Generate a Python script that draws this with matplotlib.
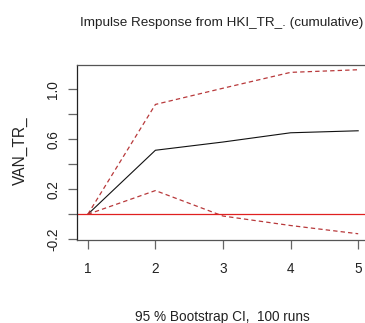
import matplotlib
matplotlib.use("Agg")
import matplotlib.pyplot as plt

plt.rcParams['font.family'] = ['Liberation Sans', 'DejaVu Sans']

# Cumulative impulse response of VAN_TR_ to a shock in HKI_TR_
horizon = [1, 2, 3, 4, 5]
irf = [0.0, 0.513, 0.579, 0.653, 0.669]
lower = [0.0, 0.19, -0.014, -0.09, -0.156]
upper = [0.0, 0.88, 1.01, 1.137, 1.158]

y_ticks = [-0.2, 0.0, 0.2, 0.4, 0.6, 0.8, 1.0]
y_labels = ['-0.2', '', '0.2', '', '0.6', '', '1.0']

W, H = 365, 323
fig = plt.figure(figsize=(W / 100, H / 100), dpi=100)
ax = fig.add_axes([77 / W, 1 - 240 / H, 292 / W, 175.5 / H])

ax.plot(horizon, irf, color='#111111', lw=0.8)
ax.plot(horizon, lower, color='#b8393b', lw=0.9, ls=(0, (3.5, 2.5)))
ax.plot(horizon, upper, color='#b8393b', lw=0.9, ls=(0, (3.5, 2.5)))
ax.axhline(0, color='#e02020', lw=0.9)

ax.set_xlim(0.84, 5.16)
ax.set_ylim(-0.206, 1.2)
ax.set_xticks(horizon)
ax.set_xticklabels([str(h) for h in horizon])
ax.set_yticks(y_ticks)
ax.set_yticklabels(y_labels, rotation=90, va='center')

for s in ax.spines.values():
    s.set_color('#555555')
    s.set_linewidth(0.9)
ax.spines['left'].set_color('#222222')

ax.tick_params(axis='both', direction='out', length=6.5, width=0.9,
               color='#666666', labelsize=9.8, labelcolor='#222222')
ax.tick_params(axis='y', pad=5.5)
ax.tick_params(axis='x', pad=9)

fig.text(222 / W, 1 - 22.7 / H, 'Impulse Response from HKI_TR_. (cumulative)',
         ha='center', va='center', fontsize=9.7, color='#222222')
fig.text(222.5 / W, 1 - 316.5 / H, '95 % Bootstrap CI,  100 runs',
         ha='center', va='center', fontsize=9.8, color='#222222')
fig.text(20 / W, 1 - 150.5 / H, 'VAN_TR_', rotation=90,
         ha='center', va='center', fontsize=11.2, color='#222222')

fig.savefig('out.png', dpi=100)
